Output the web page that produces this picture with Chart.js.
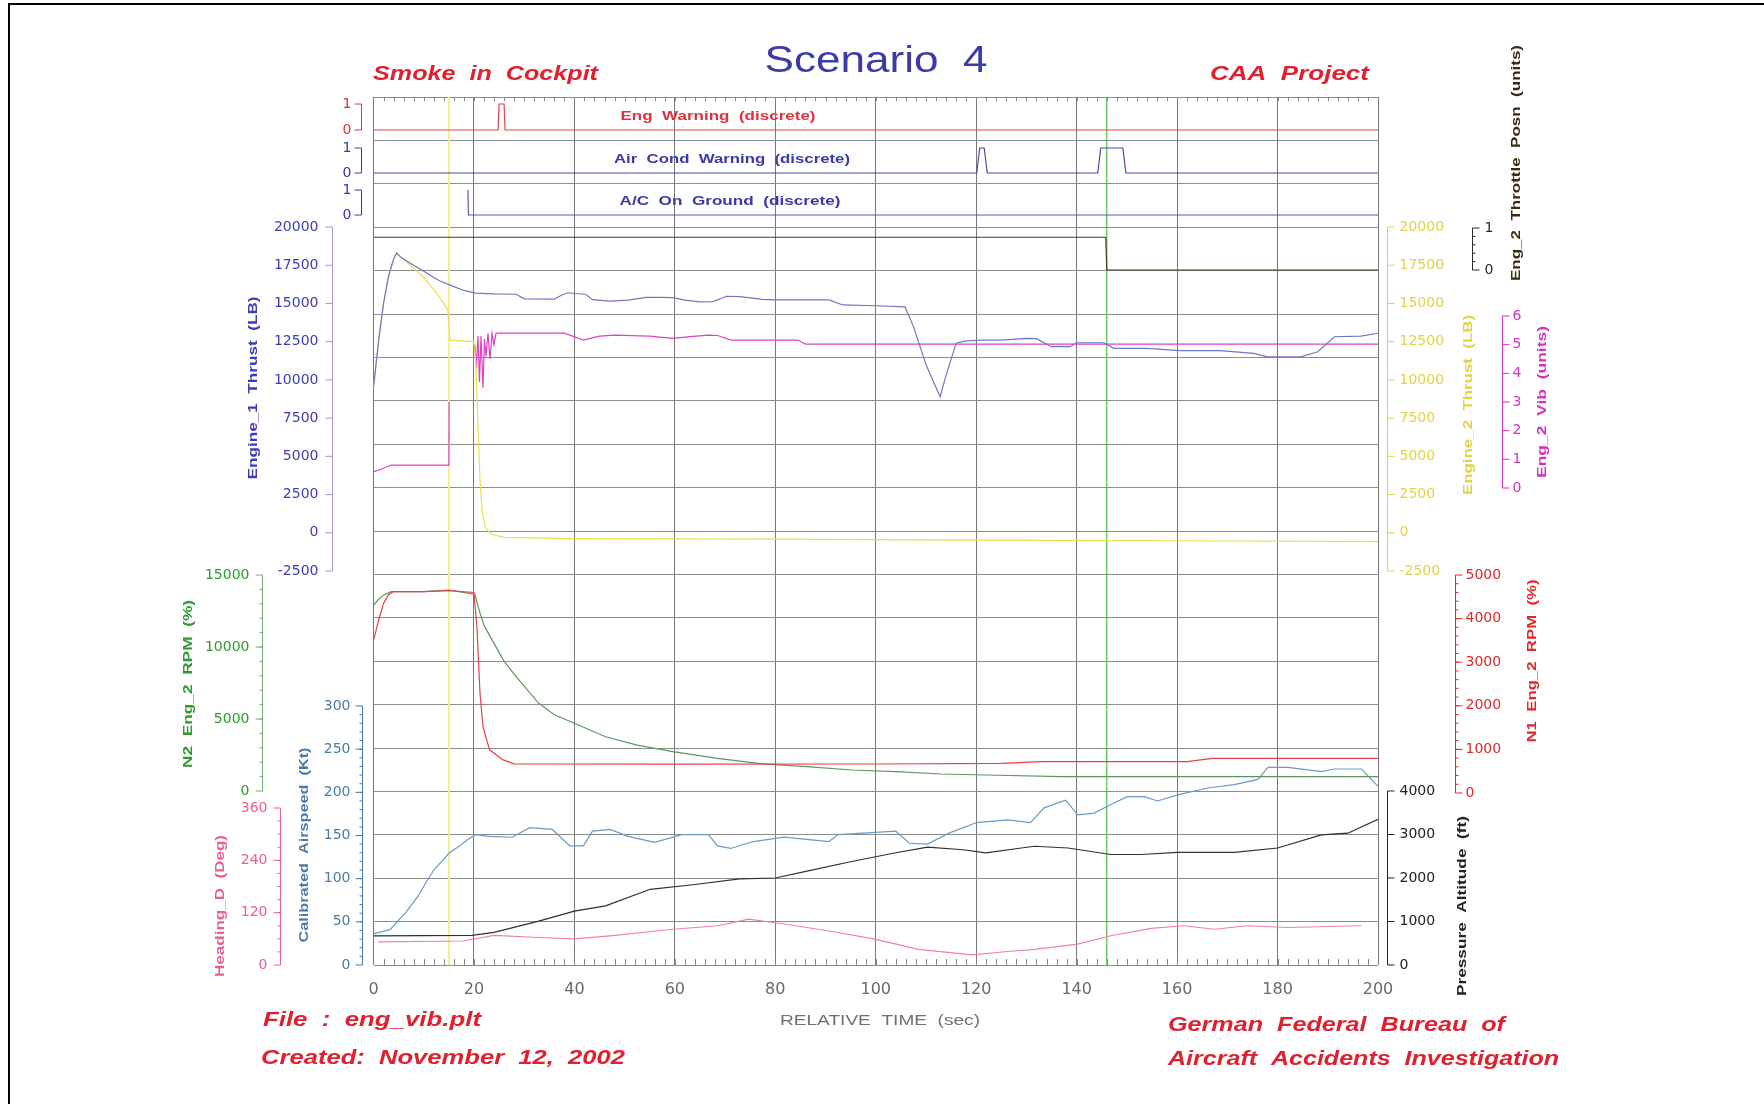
<!DOCTYPE html>
<html>
<head>
<meta charset="utf-8">
<title>Scenario 4</title>
<script src="https://cdn.jsdelivr.net/npm/chart.js@4.4.1/dist/chart.umd.min.js"></script>
<style>
  html, body { margin: 0; padding: 0; background: #fff; }
  #wrap { width: 1764px; height: 1104px; }
</style>
</head>
<body>
<div id="wrap"><canvas id="chart" width="1764" height="1104"></canvas></div>
<script>
// tick labels
const timeTicks = [0, 20, 40, 60, 80, 100, 120, 140, 160, 180, 200];
const discreteTicks = [0, 1];
const thrustTicks = [-2500, 0, 2500, 5000, 7500, 10000, 12500, 15000, 17500, 20000];
const vibTicks = [0, 1, 2, 3, 4, 5, 6];
const n2Ticks = [0, 5000, 10000, 15000];
const n1Ticks = [0, 1000, 2000, 3000, 4000, 5000];
const speedTicks = [0, 50, 100, 150, 200, 250, 300];
const altTicks = [0, 1000, 2000, 3000, 4000];
const headingTicks = [0, 120, 240, 360];

// event markers (sec)
const markerTimes = [15, 146];

// discrete signals
const engWarnT = [0, 24.8, 25.0, 26.0, 26.2, 200];
const engWarnV = [0, 0, 1, 1, 0, 0];
const airCondT = [0, 120.1, 120.7, 121.6, 122.2, 144.2, 144.8, 149.2, 149.8, 200];
const airCondV = [0, 0, 1, 1, 0, 0, 1, 1, 0, 0];
const onGroundT = [18.8, 18.9, 200];
const onGroundV = [1, 0, 0];
const throttleT = [0, 145.8, 146.0, 200];
const throttleV = [0.78, 0.78, 0, 0];

// engine thrust (LB)
const thrust1T = [0, 1, 2, 3, 4, 4.6, 5.5, 7, 10, 13, 16, 18, 20.3, 24, 28.4, 30, 36, 37.5, 38.7, 40,
  42.2, 43.6, 47, 50.7, 54.3, 57, 59.6, 62, 65, 67.6, 70.3, 73, 77.4, 80, 90.7, 93.4, 100, 105.8, 107.5, 110,
  112.8, 114, 116, 118, 121, 125, 130, 132, 135, 138.7, 140, 145.4, 147.4, 154, 160.6, 168.6, 175.3, 178, 184.6, 188,
  191.3, 196.6, 200];
const thrust1V = [9500, 12500, 15000, 16800, 17900, 18300, 18000, 17700, 17100, 16500, 16100, 15850, 15680, 15620, 15600, 15300, 15280, 15550, 15700, 15650,
  15600, 15250, 15150, 15220, 15400, 15400, 15380, 15220, 15100, 15120, 15470, 15440, 15270, 15230, 15230, 14900, 14850, 14780, 13500, 11000,
  8900, 10300, 12400, 12550, 12600, 12600, 12710, 12700, 12170, 12170, 12430, 12430, 12060, 12060, 11910, 11910, 11730, 11510, 11510, 11840,
  12820, 12860, 13050];
const thrust2T = [0, 1, 2, 3, 4, 4.6, 7, 10, 12.5, 14.8, 15.2, 20, 20.4, 20.8, 21.2, 21.7, 22.3, 23.5, 26, 40, 80, 120, 160, 200];
const thrust2V = [9500, 12500, 15000, 16800, 17900, 18300, 17600, 16700, 15700, 14600, 12600, 12500, 11000, 7000, 3500, 1200, 300, -100, -300, -380, -420, -480, -520, -580];

// eng 2 vibration (units), null = no data
const vibT = [0, 1, 3.5, 15, 15.05, 15.1, 20.2, 20.5, 20.8, 21.1, 21.4, 21.8, 22.1, 22.4, 22.8, 23.2, 23.6, 24, 24.4, 38, 41.8, 45, 48, 55, 59.6, 63, 66.7, 68.5, 71.2, 84.5, 86, 200];
const vibV = [0.57, 0.62, 0.8, 0.8, 3.0, null, 5.0, 4.2, 5.3, 3.7, 5.3, 3.5, 5.2, 4.6, 5.4, 4.5, 5.4, 5.0, 5.4, 5.4, 5.16, 5.3, 5.33, 5.3, 5.22, 5.28, 5.33, 5.32, 5.16, 5.16, 5.02, 5.02];

// rpm
const n2T = [0, 1, 2, 3.5, 10, 15, 17, 20.2, 21, 22, 24, 26, 28.4, 32.9, 36, 40, 46.2, 52.5, 59.6, 68.5, 77.4, 86.3, 95.2, 104, 113, 122, 137, 160, 200];
const n2V = [12900, 13300, 13600, 13840, 13850, 13950, 13850, 13650, 12600, 11500, 10250, 9000, 7940, 6090, 5300, 4700, 3770, 3190, 2730, 2270, 1880, 1690, 1460, 1340, 1180, 1110, 1000, 1000, 1000];
const n1T = [0, 1, 2, 3, 4, 10, 15, 20, 20.6, 21.2, 21.8, 23.1, 25.8, 28, 60, 100, 125, 133, 162, 167, 200];
const n1V = [3500, 3950, 4350, 4550, 4620, 4620, 4640, 4600, 3800, 2300, 1520, 990, 760, 670, 660, 665, 680, 718, 718, 796, 796];

// flight
const speedT = [0, 3.3, 6.6, 8.9, 10.6, 12, 13.9, 15.1, 17.2, 18.7, 20.3, 23.1, 27.6, 31.1, 35.6, 39.1, 41.8, 43.6, 47.1, 50.7,
  56, 61.4, 66.7, 68.5, 71.1, 75.6, 81.8, 90.7, 92.5, 104, 106.7, 110.3, 114.7, 120.1, 126.3, 130.8, 133.5, 137.8, 140.2, 143.5,
  146.8, 150.1, 153.5, 156.1, 160.1, 166.1, 171.4, 176.1, 178.1, 182.1, 188.7, 191.4, 196.7, 200];
const speedV = [36, 41, 62, 80, 97, 110, 122, 130, 138, 145, 151, 149, 148, 159, 157, 138, 138, 155, 157, 149,
  142, 151, 151, 138, 135, 143, 148, 143, 151, 155, 141, 140, 153, 165, 168, 165, 182, 191, 174, 176,
  186, 195, 195, 190, 197, 205, 209, 215, 229, 229, 224, 227, 227, 207];
const altT = [0, 19.6, 24, 32.9, 40, 46.2, 55.1, 64, 72.9, 80, 86.3, 95.2, 104, 110.3, 117.4, 121.9, 129, 131.6, 138.3, 146.8, 152.8, 160.1, 171.4, 180, 188.7, 194, 200];
const altV = [670, 680, 750, 1010, 1240, 1360, 1740, 1850, 1980, 2000, 2160, 2380, 2580, 2710, 2650, 2580, 2690, 2730, 2690, 2540, 2540, 2590, 2590, 2690, 2990, 3030, 3350];
const headingT = [1, 17.8, 24, 32.9, 40, 47.1, 59.6, 68.5, 74.7, 81.8, 90.7, 99.6, 108.5, 119.2, 126.3, 131.6, 140.2, 146.8, 154.8, 161.4, 167.4, 174, 182, 196.7];
const headingV = [53, 55, 68, 63, 60, 67, 82, 90, 105, 94, 78, 60, 36, 23, 31, 36, 48, 67, 84, 90, 82, 90, 86, 90];

// layout: every y axis shares the same plot area, each one maps its range onto a band
const AREA_TOP = 97, AREA_BOTTOM = 965;
function band(vTop, yTop, vBot, yBot) {
    const k = (vTop - vBot) / (yBot - yTop);
    return {
        type: 'linear', display: false, bounds: 'data',
        min: vBot - (AREA_BOTTOM - yBot) * k,
        max: vTop + (yTop - AREA_TOP) * k
    };
}

function series(t, v) {
    return t.map((x, i) => ({ x: x, y: v[i] }));
}

function line(label, t, v, axis, color, width) {
    return {
        label: label, data: series(t, v), yAxisID: axis,
        borderColor: color, borderWidth: width || 1.2,
        pointRadius: 0, tension: 0, fill: false, spanGaps: false
    };
}

const axisSpecs = [
    { id: 'yEng', side: 'left', x: 361, ticks: discreteTicks, color: '#e03040', pad: 10 },
    { id: 'yAir', side: 'left', x: 361, ticks: discreteTicks, color: '#3a3aa8', pad: 10 },
    { id: 'yGnd', side: 'left', x: 361, ticks: discreteTicks, color: '#3a3aa8', pad: 10 },
    { id: 'yT1', side: 'left', x: 332, ticks: thrustTicks, color: '#3c3cb8', line: '#9a9ad8', pad: 14,
      title: ['Engine_1  Thrust  (LB)', 253, 388, 183] },
    { id: 'yN2', side: 'left', x: 262, ticks: n2Ticks, minor: 1000, color: '#2f9a2f', line: '#70b070', pad: 13,
      title: ['N2  Eng_2  RPM  (%)', 188, 684, 168] },
    { id: 'yHdg', side: 'left', x: 280, ticks: headingTicks, minor: 30, color: '#ee5c98', pad: 13,
      title: ['Heading_D  (Deg)', 220, 906, 142] },
    { id: 'ySpd', side: 'left', x: 362, ticks: speedTicks, minor: 10, color: '#4a7aa8', pad: 12,
      title: ['Calibrated  Airspeed  (Kt)', 304, 845, 195] },
    { id: 'yT2', side: 'right', x: 1387, ticks: thrustTicks, color: '#e0d444', pad: 12,
      title: ['Engine_2  Thrust  (LB)', 1468, 405, 180] },
    { id: 'yThr', side: 'right', x: 1472, ticks: discreteTicks, minor: 0.2, color: '#2a2a2a', pad: 12,
      title: ['Eng_2  Throttle  Posn  (units)', 1516, 163, 236], titleColor: '#3a2a10' },
    { id: 'yVib', side: 'right', x: 1502, ticks: vibTicks, color: '#d830c0', pad: 10,
      title: ['Eng_2  Vib  (units)', 1542, 402, 152] },
    { id: 'yN1', side: 'right', x: 1455, ticks: n1Ticks, minor: 200, color: '#e02828', pad: 10,
      title: ['N1  Eng_2  RPM  (%)', 1532, 661, 163] },
    { id: 'yAlt', side: 'right', x: 1387, ticks: altTicks, color: '#222222', pad: 12,
      title: ['Pressure  Altitude  (ft)', 1462, 906, 180] }
];

const RED = '#e0202e';
const notes = [
    ['Scenario  4', 876, 62, 223, 'center', '36px "Liberation Sans"', '#3b3ba8'],
    ['Smoke  in  Cockpit', 373, 74, 225, 'left', 'italic bold 21px "Liberation Sans"', RED],
    ['CAA  Project', 1369, 74, 159, 'right', 'italic bold 21px "Liberation Sans"', RED],
    ['Eng  Warning  (discrete)', 718, 116, 195, 'center', 'bold 13px "Liberation Sans"', '#e03040'],
    ['Air  Cond  Warning  (discrete)', 732, 159, 236, 'center', 'bold 13px "Liberation Sans"', '#3a3aa8'],
    ['A/C  On  Ground  (discrete)', 730, 201, 221, 'center', 'bold 13px "Liberation Sans"', '#3a3aa8'],
    ['RELATIVE  TIME  (sec)', 880, 1021, 200, 'center', '15px "Liberation Sans"', '#707070'],
    ['File  :  eng_vib.plt', 263, 1020, 218, 'left', 'italic bold 21px "Liberation Sans"', RED],
    ['Created:  November  12,  2002', 261, 1058, 364, 'left', 'italic bold 21px "Liberation Sans"', RED],
    ['German  Federal  Bureau  of', 1168, 1025, 337, 'left', 'italic bold 21px "Liberation Sans"', RED],
    ['Aircraft  Accidents  Investigation', 1168, 1059, 391, 'left', 'italic bold 21px "Liberation Sans"', RED]
];

function fitText(ctx, text, x, y, w, align) {
    const m = ctx.measureText(text).width;
    ctx.save();
    ctx.translate(x, y);
    ctx.scale(w / m, 1);
    ctx.textAlign = align;
    ctx.textBaseline = 'middle';
    ctx.fillText(text, 0, 0);
    ctx.restore();
}

function drawAxis(ctx, chart, a) {
    const s = chart.scales[a.id];
    const dir = a.side === 'left' ? -1 : 1;
    const ys = a.ticks.map(v => s.getPixelForValue(v));
    const lo = Math.min(...a.ticks), hi = Math.max(...a.ticks);
    const x = Math.round(a.x) + 0.5;
    ctx.save();
    ctx.strokeStyle = a.line || a.color;
    ctx.lineWidth = 1;
    ctx.beginPath();
    ctx.moveTo(x, s.getPixelForValue(lo));
    ctx.lineTo(x, s.getPixelForValue(hi));
    ys.forEach(y => { ctx.moveTo(x, y); ctx.lineTo(x + dir * 7, y); });
    if (a.minor) {
        const n = Math.round((hi - lo) / a.minor);
        for (let i = 1; i < n; i++) {
            const y = s.getPixelForValue(lo + i * a.minor);
            ctx.moveTo(x, y); ctx.lineTo(x + dir * 3, y);
        }
    }
    ctx.stroke();
    ctx.fillStyle = a.color;
    ctx.font = '14px "DejaVu Sans"';
    ctx.textAlign = a.side === 'left' ? 'right' : 'left';
    ctx.textBaseline = 'middle';
    a.ticks.forEach((v, i) => ctx.fillText(String(v), x + dir * a.pad, ys[i]));
    if (a.title) {
        const [text, tx, ty, w] = a.title;
        ctx.fillStyle = a.titleColor || a.color;
        ctx.font = 'bold 13px "Liberation Sans"';
        ctx.translate(tx, ty);
        ctx.rotate(-Math.PI / 2);
        fitText(ctx, text, 0, 0, w, 'center');
    }
    ctx.restore();
}

const decorPlugin = {
    id: 'decor',
    beforeDraw(chart) {
        const ctx = chart.ctx;
        ctx.save();
        ctx.strokeStyle = '#000';
        ctx.lineWidth = 2;
        ctx.beginPath();
        ctx.moveTo(9, 1104); ctx.lineTo(9, 4); ctx.lineTo(1764, 4);
        ctx.stroke();
        ctx.restore();
    },
    afterDraw(chart) {
        const ctx = chart.ctx;
        const xs = chart.scales.x;
        const area = chart.chartArea;
        ctx.save();
        // minor time ticks on top and bottom frame
        ctx.strokeStyle = '#888';
        ctx.lineWidth = 1;
        ctx.beginPath();
        for (let t = 2; t < 200; t += 2) {
            const px = Math.round(xs.getPixelForValue(t)) + 0.5;
            ctx.moveTo(px, area.bottom); ctx.lineTo(px, area.bottom - 6);
            ctx.moveTo(px, area.top); ctx.lineTo(px, area.top + 4);
        }
        ctx.stroke();
        // time tick labels
        ctx.fillStyle = '#6a6a6a';
        ctx.font = '16px "DejaVu Sans"';
        ctx.textAlign = 'center';
        ctx.textBaseline = 'middle';
        timeTicks.forEach(t => ctx.fillText(String(t), xs.getPixelForValue(t), 990));
        ctx.restore();

        axisSpecs.forEach(a => drawAxis(ctx, chart, a));

        notes.forEach(n => {
            ctx.save();
            ctx.font = n[5];
            ctx.fillStyle = n[6];
            fitText(ctx, n[0], n[1], n[2], n[3], n[4]);
            ctx.restore();
        });
    }
};

Chart.defaults.font.family = '"DejaVu Sans", sans-serif';

// first in list is drawn on top
const datasets = [
    line('Eng Warning', engWarnT, engWarnV, 'yEng', '#e8404a'),
    line('Air Cond Warning', airCondT, airCondV, 'yAir', '#4a4aa0'),
    line('A/C On Ground', onGroundT, onGroundV, 'yGnd', '#5a5ab0'),
    line('Engine_1 Thrust', thrust1T, thrust1V, 'yT1', '#7474c4'),
    line('Engine_2 Thrust', thrust2T, thrust2V, 'yT2', '#e6e050'),
    line('Eng_2 Vib', vibT, vibV, 'yVib', '#e040c8'),
    line('Eng_2 Throttle Posn', throttleT, throttleV, 'yThr', '#4a3a20'),
    line('N1 Eng_2 RPM', n1T, n1V, 'yN1', '#e84048'),
    line('N2 Eng_2 RPM', n2T, n2V, 'yN2', '#5f9560'),
    line('Pressure Altitude', altT, altV, 'yAlt', '#303030'),
    line('Calibrated Airspeed', speedT, speedV, 'ySpd', '#6a9ac8'),
    line('Heading_D', headingT, headingV, 'yHdg', '#f080a8'),
    line('marker 1', [markerTimes[0], markerTimes[0]], [0, 20], 'g', '#f2f08a', 2),
    line('marker 2', [markerTimes[1], markerTimes[1]], [0, 20], 'g', '#48c048', 1.2)
];

new Chart(document.getElementById('chart'), {
    type: 'line',
    data: { datasets: datasets },
    options: {
        responsive: false,
        animation: false,
        devicePixelRatio: 1,
        events: [],
        layout: { padding: { left: 373.5, right: 386, top: AREA_TOP, bottom: 1104 - AREA_BOTTOM } },
        plugins: { legend: { display: false }, tooltip: { enabled: false } },
        scales: {
            x: {
                type: 'linear', min: 0, max: 200,
                ticks: { display: false, stepSize: 20 },
                afterBuildTicks: s => { s.ticks = timeTicks.map(v => ({ value: v })); },
                grid: { color: '#777777', drawTicks: false },
                border: { display: false },
                afterFit: s => { s.height = 0; }
            },
            g: {
                type: 'linear', position: 'left', min: 0, max: 20, bounds: 'data',
                ticks: { display: false, stepSize: 1, maxTicksLimit: 50 },
                grid: { color: '#8c8c8c', drawTicks: false },
                border: { display: false },
                afterFit: s => { s.width = 0; }
            },
            yEng: band(1, 104, 0, 130),
            yAir: band(1, 148, 0, 173),
            yGnd: band(1, 190, 0, 215),
            yThr: band(1, 228, 0, 270),
            yT1: band(20000, 227, -2500, 571),
            yT2: band(20000, 227, -2500, 571),
            yVib: band(6, 316, 0, 488),
            yN2: band(15000, 575, 0, 791),
            yN1: band(5000, 575, 0, 793),
            ySpd: band(300, 706, 0, 965),
            yAlt: band(4000, 791, 0, 965),
            yHdg: band(360, 808, 0, 965)
        }
    },
    plugins: [decorPlugin]
});
</script>
</body>
</html>
